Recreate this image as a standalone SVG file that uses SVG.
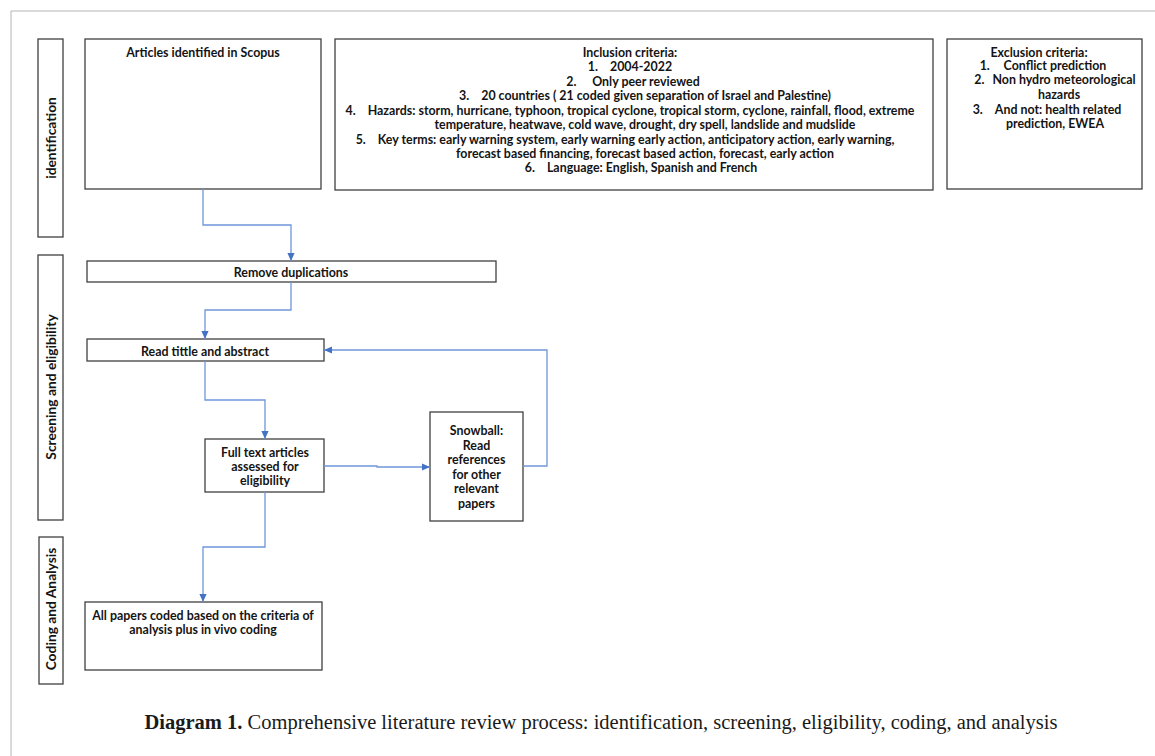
<svg xmlns="http://www.w3.org/2000/svg" width="1155" height="756" viewBox="0 0 1155 756">
<defs>
<style>
.bx{fill:#fff;stroke:#404040;stroke-width:1.3}
.t{font-family:Lato,"Liberation Sans",sans-serif;font-weight:bold;font-size:12.4px;fill:#141414;text-anchor:middle}
.lane{font-family:Lato,"Liberation Sans",sans-serif;font-weight:bold;font-size:13.8px;fill:#141414;text-anchor:middle}
.c{fill:none;stroke:#6f96da;stroke-width:1.3}
.cap{font-family:"Liberation Serif",serif;font-size:20.5px;fill:#1a1a1a;text-anchor:middle}
</style>
<marker id="arr" viewBox="0 0 10 10" refX="10" refY="5" markerWidth="8" markerHeight="8" markerUnits="userSpaceOnUse" orient="auto">
<path d="M0,0.5 L10,5 L0,9.5 z" fill="#4472c4"/>
</marker>
</defs>
<rect width="1155" height="756" fill="#fff"/>
<path d="M11,756 V11 H1155" fill="none" stroke="#b4b4b4" stroke-width="1"/>

<g id="lane-identification">
<rect class="bx" x="38" y="39" width="25" height="198"/>
<text class="lane" transform="translate(55.5,138) rotate(-90)">identification</text>
</g>
<g id="lane-screening">
<rect class="bx" x="38" y="255" width="25" height="265"/>
<text class="lane" transform="translate(55.5,387) rotate(-90)">Screening and eligibility</text>
</g>
<g id="lane-coding">
<rect class="bx" x="39" y="537" width="24" height="147"/>
<text class="lane" transform="translate(56,609) rotate(-90)">Coding and Analysis</text>
</g>

<g id="articles">
<rect class="bx" x="85" y="39" width="236" height="150"/>
<text class="t" x="203" y="56.5">Articles identified in Scopus</text>
</g>

<g id="inclusion">
<rect class="bx" x="335" y="39" width="598" height="151"/>
<text class="t" x="630" y="57">Inclusion criteria:</text>
<text class="t" x="630" y="71"><tspan>1.</tspan><tspan dx="12">2004-2022</tspan></text>
<text class="t" x="633" y="86"><tspan>2.</tspan><tspan dx="16">Only peer reviewed</tspan></text>
<text class="t" x="645" y="100"><tspan>3.</tspan><tspan dx="12">20 countries ( 21 coded given separation of Israel and Palestine)</tspan></text>
<text class="t" x="630" y="114.5"><tspan>4.</tspan><tspan dx="12">Hazards: storm, hurricane, typhoon, tropical cyclone, tropical storm, cyclone, rainfall, flood, extreme</tspan></text>
<text class="t" x="645" y="129">temperature, heatwave, cold wave, drought, dry spell, landslide and mudslide</text>
<text class="t" x="625" y="143.5"><tspan>5.</tspan><tspan dx="12">Key terms: early warning system, early warning early action, anticipatory action, early warning,</tspan></text>
<text class="t" x="645" y="157.5">forecast based financing, forecast based action, forecast, early action</text>
<text class="t" x="641" y="172"><tspan>6.</tspan><tspan dx="12">Language: English, Spanish and French</tspan></text>
</g>

<g id="exclusion">
<rect class="bx" x="947" y="39" width="195" height="150"/>
<text class="t" x="1039" y="57">Exclusion criteria:</text>
<text class="t" x="1043" y="70"><tspan>1.</tspan><tspan dx="14">Conflict prediction</tspan></text>
<text class="t" x="1055" y="84"><tspan>2.</tspan><tspan dx="8">Non hydro meteorological</tspan></text>
<text class="t" x="1059" y="98.5">hazards</text>
<text class="t" x="1047" y="113.5"><tspan>3.</tspan><tspan dx="12">And not: health related</tspan></text>
<text class="t" x="1055" y="127.5">prediction,  EWEA</text>
</g>

<g id="remove-duplications">
<rect class="bx" x="87" y="261" width="409" height="21"/>
<text class="t" x="291" y="277">Remove duplications</text>
</g>

<g id="read-title">
<rect class="bx" x="87" y="339" width="237" height="22"/>
<text class="t" x="205" y="355.5">Read tittle and abstract</text>
</g>

<g id="full-text">
<rect class="bx" x="205" y="439" width="119" height="53"/>
<text class="t" x="265" y="456.5">Full text articles</text>
<text class="t" x="265" y="471">assessed for</text>
<text class="t" x="265" y="485">eligibility</text>
</g>

<g id="snowball">
<rect class="bx" x="430" y="412" width="93" height="109"/>
<text class="t" x="476.5" y="435">Snowball:</text>
<text class="t" x="476.5" y="449.5">Read</text>
<text class="t" x="476.5" y="463.5">references</text>
<text class="t" x="476.5" y="478.5">for other</text>
<text class="t" x="476.5" y="492.5">relevant</text>
<text class="t" x="476.5" y="507.5">papers</text>
</g>

<g id="all-papers">
<rect class="bx" x="85" y="602" width="237" height="68"/>
<text class="t" x="203" y="620">All papers coded based on the criteria of</text>
<text class="t" x="203" y="633.5">analysis plus in vivo coding</text>
</g>

<g id="connectors">
<path class="c" d="M203,189 V225 H291 V261" marker-end="url(#arr)"/>
<path class="c" d="M291,282 V310 H205 V339" marker-end="url(#arr)"/>
<path class="c" d="M205,361 V400 H265 V439" marker-end="url(#arr)"/>
<path class="c" d="M324,466 H377 V467 H430" marker-end="url(#arr)"/>
<path class="c" d="M523,466 H547 V350 H324" marker-end="url(#arr)"/>
<path class="c" d="M265,492 V547 H203 V602" marker-end="url(#arr)"/>
</g>

<g id="caption">
<text class="cap" x="601" y="729"><tspan font-weight="bold">Diagram 1.</tspan> Comprehensive literature review process: identification, screening, eligibility, coding, and analysis</text>
</g>
</svg>
